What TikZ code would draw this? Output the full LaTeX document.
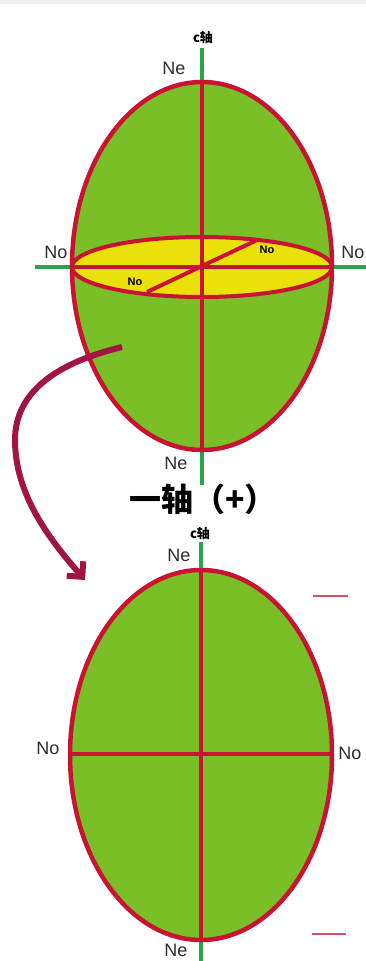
\documentclass[tikz,border=0pt]{standalone}
\usepackage{fontspec}
\setmainfont{Liberation Sans}
\newfontfamily\cjk{Noto Sans CJK SC}
\usetikzlibrary{arrows.meta}
\definecolor{leaf}{RGB}{122,190,40}
\definecolor{rim}{RGB}{200,20,50}
\definecolor{yel}{RGB}{235,225,10}
\definecolor{axisg}{RGB}{40,165,80}
\definecolor{arr}{RGB}{160,20,70}
\definecolor{lbl}{RGB}{45,45,45}
\begin{document}
\begin{tikzpicture}[x=1pt,y=-1pt,
  ell/.style={fill=leaf,draw=rim,line width=4.5pt},
  redl/.style={draw=rim,line width=4.5pt},
  axisl/.style={draw=axisg,line width=3.5pt},
  lab/.style={font=\fontsize{18}{18}\selectfont,text=lbl,inner sep=0pt},
  slab/.style={font=\bfseries\fontsize{11}{11}\selectfont,inner sep=0pt},
  clab/.style={font=\cjk\bfseries\fontsize{13}{13}\selectfont,inner sep=0pt},
  dashm/.style={draw=rim!75,line width=1.8pt},
]
\useasboundingbox (0,0) rectangle (366,961);
\fill[white] (0,0) rectangle (366,961);
\fill[gray!12] (0,0) rectangle (366,4);

% ---------- top ellipsoid ----------
\draw[axisl] (202,48) -- (202,485);
\draw[axisl] (35,267) -- (366,267);
\draw[ell] (202,266) ellipse [x radius=130pt, y radius=184pt];
\draw[fill=yel,draw=rim,line width=4pt] (202,267) ellipse [x radius=130pt, y radius=30pt];
\coordinate (t1) at (202,82);
\coordinate (t2) at (202,450);
\coordinate (t3) at (72,267);
\coordinate (t4) at (333,267);
\coordinate (d1) at (147,292);
\coordinate (d2) at (257,240);
\draw[redl] (t1) -- (t2);
\draw[redl] (t3) -- (t4);
\draw[redl,line width=4pt] (d1) -- (d2);

\node[clab] (c1) at (203,38) {c轴};
\node[lab] (ne1) at (174,68) {Ne};
\node[lab] (ne2) at (176,463) {Ne};
\node[lab] (no1) at (56,252) {No};
\node[lab] (no2) at (353,252) {No};
\node[slab] (no3) at (135,282) {No};
\node[slab] (no4) at (267,250) {No};

% ---------- arrow ----------
\coordinate (a0) at (122,347);
\coordinate (a1) at (15,440);
\coordinate (a2) at (85,580);
\draw[arr,line width=6pt,-{Straight Barb[length=11pt,width=22pt]}]
  (a0) .. controls (60,362) and (15,390) .. (a1)
  .. controls (15,495) and (50,540) .. (a2);

% ---------- title ----------
\node[font=\cjk\bfseries\fontsize{32}{32}\selectfont,inner sep=0pt] (title) at (203,499) {一轴（+）};

% ---------- bottom ellipse ----------
\draw[axisl] (201,542) -- (201,961);
\draw[ell] (201,755) ellipse [x radius=131pt, y radius=185pt];
\coordinate (b1) at (201,570);
\coordinate (b2) at (201,940);
\coordinate (b3) at (70,754);
\coordinate (b4) at (332,754);
\draw[redl] (b1) -- (b2);
\draw[redl] (b3) -- (b4);

\node[clab] (c2) at (200,534) {c轴};
\node[lab] (ne3) at (179,555) {Ne};
\node[lab] (ne4) at (176,950) {Ne};
\node[lab] (no5) at (48,748) {No};
\node[lab] (no6) at (350,753) {No};

\coordinate (m1) at (313,596);
\coordinate (m2) at (348,596);
\coordinate (m3) at (312,934);
\coordinate (m4) at (346,934);
\draw[dashm] (m1) -- (m2);
\draw[dashm] (m3) -- (m4);
\end{tikzpicture}
\end{document}
